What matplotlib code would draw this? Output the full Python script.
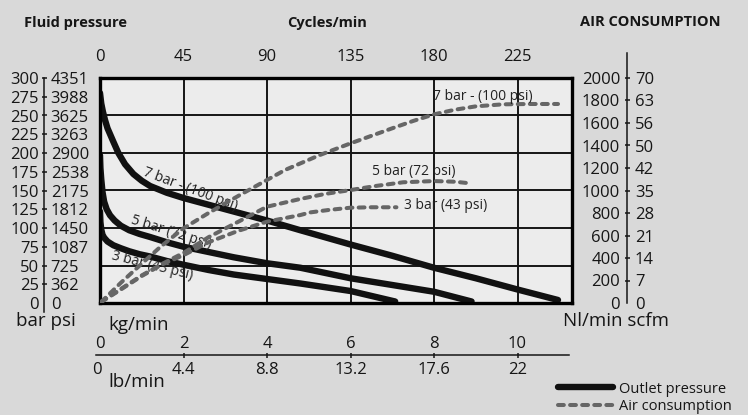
import matplotlib.pyplot as plt

plt.rcParams['font.family'] = ['Open Sans', 'DejaVu Sans']

W, H = 748, 415
PX_PER_KG = 41.75

# outlet pressure curves: kg/min -> bar
p7_kg = [0.0, 0.03, 0.07, 0.12, 0.18, 0.25, 0.32, 0.44, 0.6, 0.8, 1.0, 1.2, 1.6, 2.0,
         2.6, 3.2, 4.0, 4.8, 6.0, 7.0, 8.0, 9.0, 10.0, 10.97]
p7_bar = [280, 266, 255, 244, 233, 224, 215, 200, 185, 172, 163, 156, 147, 140,
          131, 122, 110, 97, 78, 63, 47, 33, 18, 4]
p5_kg = [0.0, 0.01, 0.03, 0.06, 0.1, 0.16, 0.24, 0.35, 0.5, 0.7, 0.95, 1.2, 1.6, 2.0,
         2.6, 3.2, 4.0, 4.8, 6.0, 7.0, 8.0, 8.9]
p5_bar = [197, 180, 165, 148, 135, 125, 117, 110, 103, 97, 92, 88, 81, 75,
          68, 61, 53, 47, 33, 24, 15, 2]
p3_kg = [0.0, 0.01, 0.03, 0.06, 0.1, 0.18, 0.32, 0.5, 0.7, 0.95, 1.2, 1.6, 2.0,
         2.6, 3.2, 4.0, 4.8, 6.0, 7.07]
p3_bar = [122, 108, 98, 91, 87, 82, 77, 73, 69, 65, 62, 56, 51,
          44, 38, 32, 26, 16, 2]

# air consumption curves: kg/min -> Nl/min
a7_kg = [0.03, 0.5, 1.0, 1.45, 2.0, 2.6, 3.35, 4.07, 4.43, 5.27, 6.0, 7.0, 7.5, 8.0,
         8.5, 9.0, 9.65, 10.3, 10.97]
a7_nl = [10, 180, 350, 500, 664, 800, 960, 1108, 1182, 1316, 1419, 1553, 1618, 1677,
         1718, 1748, 1766, 1769, 1769]
a5_kg = [0.03, 0.5, 1.0, 1.5, 2.0, 2.6, 3.3, 4.0, 4.8, 5.4, 6.0, 6.6, 7.26, 8.0, 8.5, 8.86]
a5_nl = [10, 125, 245, 350, 445, 585, 720, 856, 925, 970, 1004, 1040, 1073, 1084, 1078, 1064]
a3_kg = [0.03, 0.5, 1.0, 1.5, 2.0, 2.6, 3.3, 4.0, 4.8, 5.03, 5.5, 6.0, 6.5, 7.1]
a3_nl = [10, 120, 240, 345, 425, 540, 640, 723, 782, 805, 828, 847, 851, 851]

# scales
cycles_ticks = [0, 45, 90, 135, 180, 225]
grid_bar = [50, 100, 150, 200, 250]
bar_ticks = [25, 50, 75, 100, 125, 150, 175, 200, 225, 250, 275, 300]
psi_labels = ['362', '725', '1087', '1450', '1812', '2175', '2538', '2900', '3263', '3625', '3988', '4351']
nl_ticks = [200, 400, 600, 800, 1000, 1200, 1400, 1600, 1800, 2000]
scfm_labels = ['7', '14', '21', '28', '35', '42', '50', '56', '63', '70']
kg_ticks = [2, 4, 6, 8, 10]
kg_labels = ['0', '2', '4', '6', '8', '10']
lb_labels = ['4.4', '8.8', '13.2', '17.6', '22']

BG = '#d9d9d9'
PLOT_BG = '#ececec'
INK = '#161616'
GRAY = '#666666'


def box(x0, y0, x1, y1):
    return [x0 / W, 1 - y1 / H, (x1 - x0) / W, (y1 - y0) / H]


def ftext(x, y, s, **kw):
    fig.text(x / W, 1 - y / H, s, color=INK, va='baseline', **kw)


fig = plt.figure(figsize=(W / 100, H / 100), dpi=100, facecolor=BG)

# main plot
ax = fig.add_axes(box(100, 78, 572, 303))
ax.set_facecolor(PLOT_BG)
ax.set_xlim(0, 472 / PX_PER_KG)
ax.set_ylim(0, 300)
ax.set_xticks(kg_ticks)
ax.set_yticks(grid_bar)
ax.tick_params(length=0, labelbottom=False, labelleft=False)
ax.grid(color=INK, lw=1.4)
for s in ax.spines.values():
    s.set_linewidth(2.4)
    s.set_color('black')

solid = dict(color='#111111', lw=4.6, solid_capstyle='round', solid_joinstyle='round')
l_out, = ax.plot(p7_kg, p7_bar, **solid)
ax.plot(p5_kg, p5_bar, **solid)
ax.plot(p3_kg, p3_bar, **solid)

lab = dict(fontsize=10, color='#222222', ha='center', va='center', rotation_mode='anchor')
ax.text(2.16, 152, '7 bar - (100 psi)', rotation=-20.5, **lab)
ax.text(1.70, 94, '5 bar (72 psi)', rotation=-17.5, **lab)
ax.text(1.24, 49, '3 bar (43 psi)', rotation=-14, **lab)

tw = ax.twinx()
tw.set_ylim(0, 2000)
tw.set_yticks([])
for s in tw.spines.values():
    s.set_visible(False)
dashed = dict(color=GRAY, lw=2.9, dashes=(1.45, 1.55), dash_capstyle='round')
l_air, = tw.plot(a7_kg, a7_nl, **dashed)
tw.plot(a5_kg, a5_nl, **dashed)
tw.plot(a3_kg, a3_nl, **dashed)
dl = dict(fontsize=10, color='#222222', ha='left', va='center')
tw.text(7.97, 1834, '7 bar - (100 psi)', **dl)
tw.text(6.51, 1167, '5 bar (72 psi)', **dl)
tw.text(7.28, 865, '3 bar (43 psi)', **dl)

# cycles/min on top
sec = ax.secondary_xaxis('top', functions=(lambda k: k * 22.5, lambda c: c / 22.5))
sec.set_xticks(cycles_ticks)
sec.tick_params(length=0, pad=9.4, labelsize=12, labelcolor=INK)
sec.spines['top'].set_visible(False)


def scale_axis(rect, ylim, ticks, left_labels, right_labels, left_pad, right_pad):
    a = fig.add_axes(rect)
    a.patch.set_visible(False)
    a.set_ylim(*ylim)
    a.set_xticks([])
    for k in ['right', 'top', 'bottom']:
        a.spines[k].set_visible(False)
    a.spines['left'].set_linewidth(1.1)
    a.spines['left'].set_color(INK)
    a.set_yticks(ticks)
    a.set_yticklabels(left_labels)
    a.set_yticks([0], minor=True)
    a.set_yticklabels(['0'], minor=True)
    a.tick_params(axis='y', which='major', direction='inout', length=3.6, width=1.1,
                  color=INK, pad=left_pad, labelsize=12, labelcolor=INK)
    a.tick_params(axis='y', which='minor', length=0, pad=left_pad + 1.8,
                  labelsize=12, labelcolor=INK)
    b = a.twinx()
    b.set_ylim(*ylim)
    for s in b.spines.values():
        s.set_visible(False)
    b.set_yticks(ticks)
    b.set_yticklabels(right_labels)
    b.set_yticks([0], minor=True)
    b.set_yticklabels(['0'], minor=True)
    b.tick_params(axis='y', which='both', length=0, pad=right_pad,
                  labelsize=12, labelcolor=INK)
    return a


# fluid pressure scale (bar | psi)
scale_axis(box(44, 78, 44.01, 312), (-12, 300), bar_ticks,
           [str(v) for v in bar_ticks], psi_labels, 1.8, 4.8)
# air consumption scale (Nl/min | scfm)
scale_axis(box(627, 53, 627.01, 303), (0, 2000 * 250 / 225), nl_ticks,
           [str(v) for v in nl_ticks], scfm_labels, 3.2, 5.6)

# flow scale at the bottom (kg/min above, lb/min below)
axb = fig.add_axes(box(96, 355, 569, 355.01))
axb.patch.set_visible(False)
axb.set_xlim(-4 / PX_PER_KG, 469 / PX_PER_KG)
axb.set_yticks([])
for k in ['left', 'right', 'top']:
    axb.spines[k].set_visible(False)
axb.spines['bottom'].set_linewidth(1.1)
axb.spines['bottom'].set_color(INK)
axb.set_xticks(kg_ticks)
axb.set_xticklabels(lb_labels)
axb.set_xticks([-0.085], minor=True)
axb.set_xticklabels(['0'], minor=True)
axb.tick_params(axis='x', which='major', direction='inout', length=3.6, width=1.1,
                color=INK, pad=3.2, labelsize=12, labelcolor=INK)
axb.tick_params(axis='x', which='minor', length=0, pad=5.0, labelsize=12, labelcolor=INK)
axk = axb.twiny()
axk.set_xlim(axb.get_xlim())
for s in axk.spines.values():
    s.set_visible(False)
axk.set_xticks([0] + kg_ticks)
axk.set_xticklabels(kg_labels)
axk.tick_params(axis='x', length=0, pad=2, labelsize=12, labelcolor=INK)

# titles and unit labels
ftext(24, 26.5, 'Fluid pressure', fontsize=10.5, fontweight='bold')
ftext(327, 26.5, 'Cycles/min', fontsize=10.5, fontweight='bold', ha='center')
ftext(580, 26.5, 'AIR CONSUMPTION', fontsize=10.5, fontweight='bold')
ftext(16, 326.5, 'bar psi', fontsize=13.5)
ftext(563, 326, 'Nl/min scfm', fontsize=13.5)
ftext(108, 330, 'kg/min', fontsize=13.5)
ftext(108, 386.5, 'lb/min', fontsize=13.5)

fig.legend(handles=[l_out, l_air], labels=['Outlet pressure', 'Air consumption'],
           loc='center left', bbox_to_anchor=(558 / W, 1 - 398 / H), frameon=False,
           fontsize=10.5, handlelength=3.75, handletextpad=0.45, borderpad=0,
           borderaxespad=0, labelspacing=0.2, labelcolor=INK)

fig.savefig('out.png', dpi=100, facecolor=BG)
